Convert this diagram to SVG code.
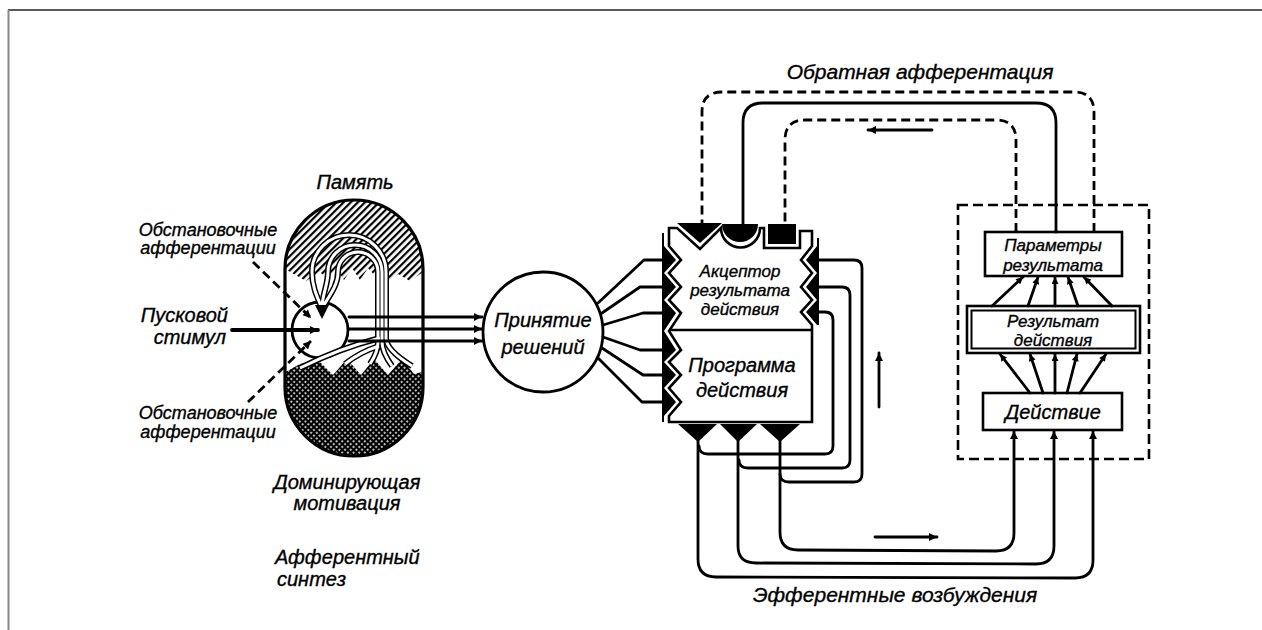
<svg xmlns="http://www.w3.org/2000/svg" width="1262" height="630" viewBox="0 0 1262 630">
<style>
.t{font-family:"Liberation Sans",Arial,sans-serif;font-style:italic;font-size:20px;fill:#000;stroke:#000;stroke-width:0.35}
.s{font-size:18px}
.b{font-size:17px}
.ln{fill:none;stroke:#000;stroke-width:2.8;stroke-linejoin:round;stroke-linecap:round}
.th{stroke-width:3.8}
.dash{stroke-dasharray:9 5;stroke-linecap:butt}
.box{fill:#fff;stroke:#000;stroke-width:2.6}
.blk{fill:#000;stroke:none}
.fb{fill:none;stroke:#000;stroke-width:6}
.fw{fill:none;stroke:#fff;stroke-width:3}
</style>
<defs>
<marker id="ah" viewBox="0 0 10 10" refX="10" refY="5" markerWidth="10" markerHeight="8" markerUnits="userSpaceOnUse" orient="auto"><path d="M0,0 L10,5 L0,10 Z" fill="#000"/></marker>
<marker id="ahs" viewBox="0 0 10 10" refX="10" refY="5" markerWidth="8" markerHeight="7" markerUnits="userSpaceOnUse" orient="auto"><path d="M0,0 L10,5 L0,10 Z" fill="#000"/></marker>
<pattern id="hatch" width="5" height="5" patternUnits="userSpaceOnUse" patternTransform="rotate(-45)"><rect width="5" height="5" fill="#fff"/><rect width="5" height="2.2" fill="#000"/></pattern>
<pattern id="cross" width="4" height="4" patternUnits="userSpaceOnUse" patternTransform="rotate(45)"><rect width="4" height="4" fill="#000"/><rect x="1.2" y="1.2" width="1.7" height="1.7" fill="#fff"/></pattern>
<clipPath id="capclip"><path d="M285,269 A69,69 0 0 1 423,269 L423,387 A69,69 0 0 1 285,387 Z"/></clipPath>
</defs>
<rect width="1262" height="630" fill="#fff"/>
<path d="M8,10 L1262,10" stroke="#222" stroke-width="1.5"/>
<path d="M8.5,10 L8.5,630" stroke="#888" stroke-width="2"/>

<g id="afferent-synthesis">
<g clip-path="url(#capclip)">
<path d="M278,190 L430,190 L430,272 L423,272 L410,281 L398,274 L390,280 L376,277 L368,268 L360,280 L352,268 L344,280 L336,268 L328,280 L320,272 L306,281 L285,269 L278,269 Z" fill="url(#hatch)"/>
<path d="M278,376 L300,364 L318,360 L333,375 L347,359 L361,375 L374,359 L388,375 L402,359 L414,374 L430,370 L430,470 L278,470 Z" fill="url(#cross)"/>
</g>
<circle cx="320" cy="330" r="28" fill="#fff" stroke="#000" stroke-width="2.8"/>
<path class="fb" d="M322,308 C316,295 312,285 312,272 A37,37 0 0 1 386,272 L386,338 Q386,350 412,366"/>
<path class="fb" d="M322,308 C322,295 328,285 328,272 A27,27 0 0 1 382,272 L382,342 Q382,352 392,366"/>
<path class="fb" d="M322,308 C330,295 338,285 338,272 A20,20 0 0 1 378,272 L378,342 Q378,352 370,364"/>
<path class="fb" d="M379,346 Q360,352 345,364"/>
<path class="fb" d="M380,338 Q340,348 300,368"/>
<path class="fw" d="M322,308 C316,295 312,285 312,272 A37,37 0 0 1 386,272 L386,338 Q386,350 412,366"/>
<path class="fw" d="M322,308 C322,295 328,285 328,272 A27,27 0 0 1 382,272 L382,342 Q382,352 392,366"/>
<path class="fw" d="M322,308 C330,295 338,285 338,272 A20,20 0 0 1 378,272 L378,342 Q378,352 370,364"/>
<path class="fw" d="M379,346 Q360,352 345,364"/>
<path class="fw" d="M380,338 Q340,348 300,368"/>
<path class="blk" d="M315,305 L329,305 L322,319 Z"/>
<path d="M285,269 A69,69 0 0 1 423,269 L423,387 A69,69 0 0 1 285,387 Z" fill="none" stroke="#000" stroke-width="3.2"/>
<text class="t" x="355" y="189" text-anchor="middle">Память</text>
<text class="t s" x="208" y="236" text-anchor="middle">Обстановочные</text>
<text class="t s" x="208" y="254" text-anchor="middle">афферентации</text>
<text class="t" x="228" y="322" text-anchor="end">Пусковой</text>
<text class="t" x="226" y="344" text-anchor="end">стимул</text>
<text class="t s" x="208" y="419" text-anchor="middle">Обстановочные</text>
<text class="t s" x="208" y="438" text-anchor="middle">афферентации</text>
<text class="t" x="347" y="489" text-anchor="middle">Доминирующая</text>
<text class="t" x="347" y="510" text-anchor="middle">мотивация</text>
<text class="t" x="275" y="564" text-anchor="start">Афферентный</text>
<text class="t" x="277" y="586" text-anchor="start">синтез</text>
</g>

<g id="decision">
<circle cx="543" cy="332" r="60" fill="#fff" stroke="#000" stroke-width="2.8"/>
<text class="t" x="543" y="327" text-anchor="middle">Принятие</text>
<text class="t" x="543" y="354" text-anchor="middle">решений</text>
</g>

<g id="acceptor">
<path class="box" d="M669,228 L677,228 L700,249 L721,228 A19.5,19.5 0 0 0 760,228 L764,228 L764,248 L800,248 L800,231 L812,231 L812,246 L801,260 L812,273 L801,287 L812,300 L801,312 L812,325 L812,422 L669,422 L669,416 L681,402 L669,388 L681,375 L669,362 L681,350 L669,331 L681,313 L669,300 L681,287 L669,273 L681,260 L669,246 Z"/>
<path d="M669,330 L812,330" stroke="#000" stroke-width="2.6"/>
<path class="blk" d="M662,233 L664,233 L664,246 L676,260 L664,273 L676,287 L664,300 L676,313 L664,331 L676,350 L664,362 L676,375 L664,388 L676,402 L664,416 L664,422 L662,422 Z"/>
<path class="blk" d="M819,238 L817,238 L817,246 L806,260 L817,273 L806,287 L817,300 L806,312 L817,325 L819,325 Z"/>
<path class="blk" d="M677,223 L722,223 L700,243 Z"/>
<path class="blk" d="M722,224 A18,18 0 0 0 758,224 Z"/>
<rect class="blk" x="768" y="224" width="28" height="20"/>
<path class="blk" d="M678,424 L717,424 L698,442 Z"/>
<path class="blk" d="M720,424 L757,424 L738,442 Z"/>
<path class="blk" d="M760,424 L800,424 L780,442 Z"/>
<text class="t b" x="740" y="277" text-anchor="middle">Акцептор</text>
<text class="t b" x="740" y="296" text-anchor="middle">результата</text>
<text class="t b" x="740" y="315" text-anchor="middle">действия</text>
<text class="t" x="742" y="372" text-anchor="middle">Программа</text>
<text class="t" x="742" y="397" text-anchor="middle">действия</text>
</g>

<g id="result-block">
<rect x="958" y="205" width="191" height="254" fill="none" stroke="#000" stroke-width="2.6" stroke-dasharray="10 5"/>
</g>
<g id="parameters">
<rect class="box" x="985" y="232" width="137" height="44"/>
<text class="t b" x="1053" y="251" text-anchor="middle">Параметры</text>
<text class="t b" x="1053" y="271" text-anchor="middle">результата</text>
</g>
<g id="result">
<rect class="box" x="967" y="306" width="173" height="47"/>
<rect x="971.5" y="310.5" width="164" height="38" fill="none" stroke="#000" stroke-width="2"/>
<text class="t b" x="1053" y="327" text-anchor="middle">Результат</text>
<text class="t b" x="1053" y="346" text-anchor="middle">действия</text>
</g>
<g id="action">
<rect class="box" x="983" y="393" width="139" height="37"/>
<text class="t" x="1053" y="419" text-anchor="middle">Действие</text>
</g>

<g id="connectors">
<path class="ln th" d="M232,330 L318,330" marker-end="url(#ah)"/>
<path class="ln dash" d="M253,262 L311,318" marker-end="url(#ah)"/>
<path class="ln dash" d="M248,402 L311,341" marker-end="url(#ah)"/>
<path class="ln" d="M349,317 L482,317" marker-end="url(#ah)"/>
<path class="ln" d="M349,329 L482,329" marker-end="url(#ah)"/>
<path class="ln" d="M349,341 L482,341" marker-end="url(#ah)"/>
<path class="ln" d="M598,303 L644,260 L663,260"/>
<path class="ln" d="M602,313 L640,287 L663,287"/>
<path class="ln" d="M603,325 L643,313 L663,313"/>
<path class="ln" d="M603,337 L640,350 L663,350"/>
<path class="ln" d="M602,348 L643,375 L663,375"/>
<path class="ln" d="M598,358 L642,402 L663,402"/>
<path class="ln" d="M818,312 L825,312 Q833,312 833,320 L833,446 Q833,454 825,454 L708,454 Q699,454 699,446"/>
<path class="ln" d="M818,287 L842,287 Q850,287 850,295 L850,460 Q850,468 842,468 L748,468 Q739,468 739,460"/>
<path class="ln" d="M818,260 L854,260 Q862,260 862,268 L862,474 Q862,482 854,482 L789,482 Q780,482 780,474"/>
<path class="ln" d="M698,441 L698,559 Q698,577 716,577 L1075,578 Q1093,578 1093,560 L1093,431" marker-end="url(#ah)"/>
<path class="ln" d="M738,441 L738,546 Q738,563 756,563 L1036,564 Q1054,564 1054,546 L1054,431" marker-end="url(#ah)"/>
<path class="ln" d="M780,441 L780,532 Q780,550 798,550 L996,551 Q1014,551 1014,533 L1014,431" marker-end="url(#ah)"/>
<path class="ln dash" d="M1094,232 L1094,112 Q1094,92 1074,92 L722,92 Q702,92 702,112 L702,224"/>
<path class="ln" d="M1056,232 L1056,123 Q1056,103 1036,103 L763,103 Q743,103 743,123 L743,224"/>
<path class="ln dash" d="M1016,232 L1016,140 Q1016,120 996,120 L805,120 Q785,120 785,140 L785,224"/>
<path class="ln" d="M932,130 L868,130" marker-end="url(#ah)"/>
<path class="ln" d="M879,407 L879,353" marker-end="url(#ah)"/>
<path class="ln" d="M875,537 L937,537" marker-end="url(#ah)"/>
<path class="ln" d="M992,306 L1023,277" marker-end="url(#ahs)"/>
<path class="ln" d="M1028,306 L1038,277" marker-end="url(#ahs)"/>
<path class="ln" d="M1055,306 L1055,277" marker-end="url(#ahs)"/>
<path class="ln" d="M1078,306 L1068,277" marker-end="url(#ahs)"/>
<path class="ln" d="M1112,306 L1084,277" marker-end="url(#ahs)"/>
<path class="ln" d="M1030,393 L1000,354" marker-end="url(#ahs)"/>
<path class="ln" d="M1043,393 L1030,354" marker-end="url(#ahs)"/>
<path class="ln" d="M1055,393 L1055,354" marker-end="url(#ahs)"/>
<path class="ln" d="M1067,393 L1077,354" marker-end="url(#ahs)"/>
<path class="ln" d="M1080,393 L1106,354" marker-end="url(#ahs)"/>
</g>
<text class="t" x="920" y="79" text-anchor="middle" style="font-size:21px">Обратная афферентация</text>
<text class="t" x="895" y="602" text-anchor="middle" style="font-size:21px">Эфферентные возбуждения</text>
</svg>
